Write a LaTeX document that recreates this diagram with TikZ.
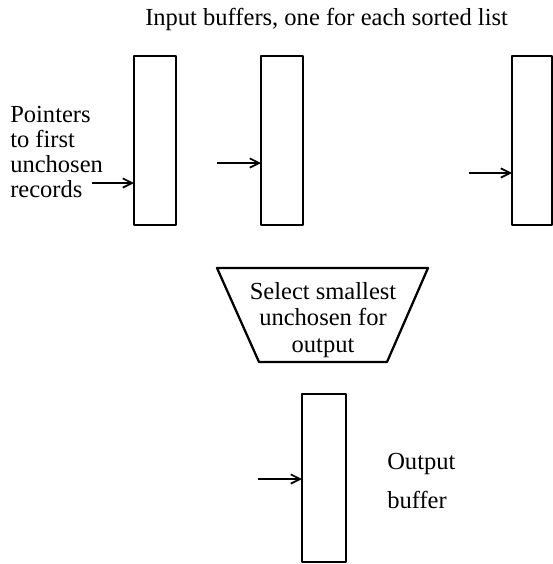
\documentclass[tikz,border=0pt]{standalone}
\usepackage{fontspec}
\setmainfont{Liberation Serif}
\usetikzlibrary{arrows.meta}
\tikzset{
  buf/.style={draw, line width=1.7pt, line join=round},
  ptr/.style={line width=1.6pt, -{Straight Barb[length=7pt,width=7pt,line width=1.3pt]}},
  lbl/.style={anchor=base west, inner sep=0pt, font=\fontsize{18.4}{20}\selectfont},
  clbl/.style={anchor=base, inner sep=0pt, font=\fontsize{18.4}{20}\selectfont}
}
\begin{document}
\begin{tikzpicture}[x=0.75pt,y=-0.75pt]
\useasboundingbox (0,0) rectangle (553,564);
% title
\node[lbl] (title) at (145,26) {Input buffers, one for each sorted list};
% input buffers
\draw[buf] (134,56) rectangle (176,225);
\coordinate (b1) at (134,183);
\draw[buf] (261,56) rectangle (303,225);
\coordinate (b2) at (261,163);
\draw[buf] (512,56) rectangle (552,225);
\coordinate (b3) at (512,173);
% pointer tails
\coordinate (p1) at (92,183);
\coordinate (p2) at (217,163);
\coordinate (p3) at (469,173);
\draw[ptr] (p1) -- (b1);
\draw[ptr] (p2) -- (b2);
\draw[ptr] (p3) -- (b3);
% left label
\node[lbl] (l1) at (10,122) {Pointers};
\node[lbl] (l2) at (10,147) {to first};
\node[lbl] (l3) at (10,172) {unchosen};
\node[lbl] (l4) at (10,197) {records};
% selector
\draw[buf] (217,268) -- (428,268) -- (387,362) -- (259,362) -- cycle;
\node[clbl] (s1) at (323,299) {Select smallest};
\node[clbl] (s2) at (323,325) {unchosen for};
\node[clbl] (s3) at (323,352) {output};
% output buffer
\draw[buf] (302,394) rectangle (346,562);
\coordinate (ob) at (302,479);
\coordinate (op) at (258,479);
\draw[ptr] (op) -- (ob);
\node[lbl] (o1) at (387,469) {Output};
\node[lbl] (o2) at (387,508) {buffer};
\end{tikzpicture}
\end{document}
